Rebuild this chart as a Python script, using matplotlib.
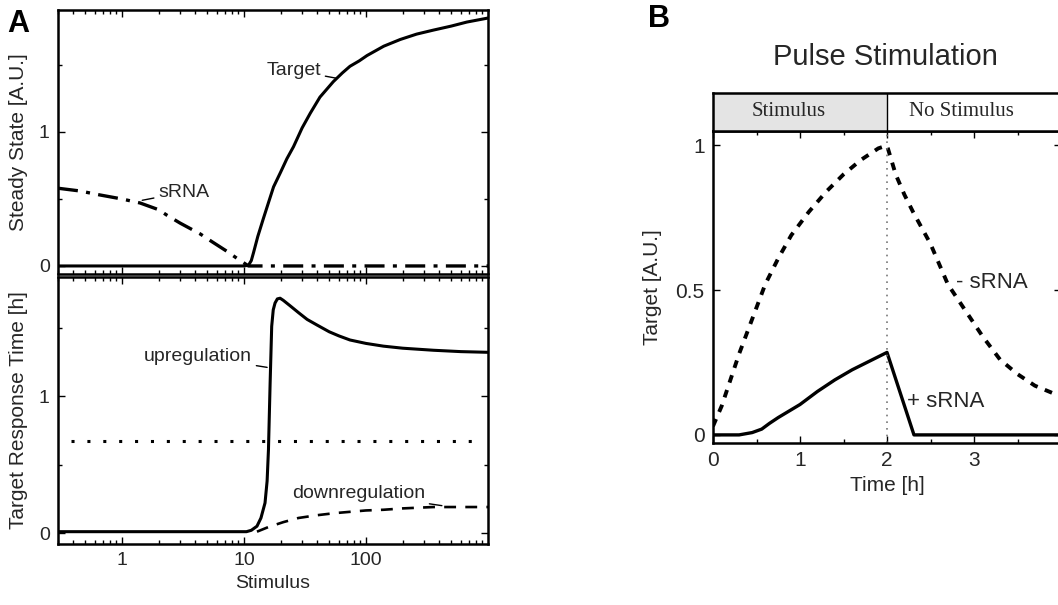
import numpy as np
import matplotlib
matplotlib.use("Agg")
import matplotlib.pyplot as plt
from matplotlib.ticker import FixedLocator, NullFormatter

plt.rcParams["font.family"] = ["Liberation Sans", "DejaVu Sans"]

# --- panel A, steady state vs stimulus (log x) ---
ss_target_x = [0.3, 1, 5, 10, 10.9, 11.5, 12, 13, 14.4, 16, 17.5, 20, 22.5, 25.5, 30, 35, 42,
               54, 64, 74, 88, 102, 140, 191, 260, 357, 500, 671, 1000]
ss_target_y = [0, 0, 0, 0, 0.005, 0.04, 0.1, 0.22, 0.35, 0.48, 0.59, 0.70, 0.80, 0.89, 1.03, 1.14, 1.26,
               1.375, 1.44, 1.49, 1.53, 1.57, 1.64, 1.69, 1.73, 1.76, 1.79, 1.82, 1.85]

ss_srna_x = [0.3, 0.45, 0.66, 1, 1.41, 2, 2.33, 3, 4.37, 5.5, 7.24, 9, 10.9, 100, 1000]
ss_srna_y = [0.58, 0.56, 0.53, 0.50, 0.47, 0.42, 0.38, 0.32, 0.24, 0.18, 0.11, 0.05, 0.0, 0.0, 0.0]

# --- panel A, response time ---
up_x = [0.3, 1, 10.5, 11.5, 12.8, 13.8, 14.9, 15.5, 15.9, 16.4, 16.9, 17.4, 18.0, 18.8, 19.8,
        21, 23.9, 28, 33, 39.6, 50, 60, 74, 100, 139, 200, 357, 600, 1000]
up_y = [0.01, 0.01, 0.01, 0.02, 0.05, 0.11, 0.22, 0.38, 0.61, 1.09, 1.51, 1.63, 1.68, 1.71, 1.715,
        1.70, 1.66, 1.61, 1.56, 1.52, 1.47, 1.44, 1.41, 1.385, 1.365, 1.35, 1.335, 1.325, 1.32]

down_x = [12.8, 16, 21.1, 28, 39.6, 55, 74, 100, 139, 200, 357, 1000]
down_y = [0.01, 0.045, 0.08, 0.11, 0.13, 0.145, 0.155, 0.165, 0.17, 0.18, 0.19, 0.19]

ref_time = 0.674

# --- panel B, pulse stimulation ---
no_srna_t = [0, 0.1, 0.2, 0.3, 0.4, 0.5, 0.6, 0.75, 0.9, 1.1, 1.3, 1.5, 1.7, 1.9, 2.0,
             2.1, 2.2, 2.3, 2.5, 2.7, 2.9, 3.1, 3.3, 3.5, 3.7, 3.9, 4.0]
no_srna_y = [0.03, 0.10, 0.19, 0.28, 0.36, 0.44, 0.52, 0.61, 0.69, 0.77, 0.84, 0.90, 0.95, 0.99, 1.0,
             0.90, 0.83, 0.77, 0.66, 0.52, 0.43, 0.34, 0.26, 0.21, 0.17, 0.145, 0.13]

with_srna_t = [0, 0.3, 0.45, 0.56, 0.65, 0.75, 0.85, 1.0, 1.2, 1.4, 1.6, 1.8, 2.0, 2.31, 4.0]
with_srna_y = [0.0, 0.0, 0.008, 0.02, 0.04, 0.06, 0.078, 0.105, 0.15, 0.19, 0.225, 0.255, 0.285, 0.0, 0.0]

W, H = 1058, 605
TXT = "#262626"
fig = plt.figure(figsize=(W / 100, H / 100), dpi=100)


def px_axes(x0, y0, x1, y1):
    return fig.add_axes([x0 / W, 1 - y1 / H, (x1 - x0) / W, (y1 - y0) / H])


def style(ax, lw=1.8):
    for s in ax.spines.values():
        s.set_linewidth(lw)
    ax.tick_params(which="both", direction="in", top=True, right=True,
                   labelsize=14, width=1.0, pad=6, labelcolor=TXT)
    ax.tick_params(which="major", length=5)
    ax.tick_params(which="minor", length=3)


def leader(ax, label, xy, xytext, ha):
    ax.annotate(label, xy=xy, xytext=xytext, fontsize=14, ha=ha, va="center", color=TXT,
                arrowprops=dict(arrowstyle="-", lw=1.0, color="black", shrinkA=1, shrinkB=0))


ax1 = px_axes(58, 10, 488, 274)
ax2 = px_axes(58, 277, 488, 544)

for ax in (ax1, ax2):
    ax.set_xscale("log")
    ax.set_xlim(0.3, 1000)
    style(ax)

ax1.plot(ss_target_x, ss_target_y, color="black", lw=2.2)
ax1.plot(ss_srna_x, ss_srna_y, color="black", lw=2.4, dashes=[6, 2.5, 1.2, 2.5])
ax1.set_ylim(-0.06, 1.91)
ax1.yaxis.set_major_locator(FixedLocator([0, 1]))
ax1.yaxis.set_minor_locator(FixedLocator([0.5, 1.5]))
ax1.xaxis.set_major_formatter(NullFormatter())
ax1.xaxis.set_minor_formatter(NullFormatter())
ax1.set_ylabel("Steady State [A.U.]", fontsize=15, color=TXT, labelpad=8)
leader(ax1, "Target", (58, 1.40), (43, 1.46), "right")
leader(ax1, "sRNA", (1.47, 0.49), (1.98, 0.55), "left")

ax2.plot(up_x, up_y, color="black", lw=2.2)
ax2.plot(down_x, down_y, color="black", lw=1.9, dashes=[4.5, 3.5])
ax2.axhline(ref_time, xmin=0.03, xmax=0.985, color="black", lw=2.2, ls=(0, (1, 4.2)))
ax2.set_ylim(-0.08, 1.87)
ax2.yaxis.set_major_locator(FixedLocator([0, 1]))
ax2.yaxis.set_minor_locator(FixedLocator([0.5, 1.5]))
ax2.set_xticks([1, 10, 100])
ax2.set_xticklabels(["1", "10", "100"])
ax2.xaxis.set_minor_formatter(NullFormatter())
ax2.set_ylabel("Target Response Time [h]", fontsize=15, color=TXT, labelpad=8)
ax2.set_xlabel("Stimulus", fontsize=14, color=TXT, labelpad=4)
leader(ax2, "upregulation", (15.5, 1.21), (11.7, 1.29), "right")
leader(ax2, "downregulation", (419, 0.20), (306, 0.29), "right")

# --- panel B ---
axb = px_axes(713, 131, 1061, 443)
style(axb)
axb.set_xlim(0, 4)
axb.set_ylim(-0.028, 1.05)
axb.plot(no_srna_t, no_srna_y, color="black", lw=2.8, dashes=[2.0, 2.0])
axb.plot(with_srna_t, with_srna_y, color="black", lw=2.4)
axb.axvline(2, color="#777777", lw=1.2, ls=(0, (1, 3)))
axb.set_xticks([0, 1, 2, 3])
axb.xaxis.set_minor_locator(FixedLocator([0.5, 1.5, 2.5, 3.5]))
axb.set_yticks([0, 0.5, 1])
axb.set_yticklabels(["0", "0.5", "1"])
axb.tick_params(labelsize=15)
axb.set_xlabel("Time [h]", fontsize=15, color=TXT, labelpad=4)
axb.set_ylabel("Target [A.U.]", fontsize=15, color=TXT, labelpad=10)
axb.text(2.79, 0.525, "- sRNA", fontsize=16, ha="left", va="center", color=TXT)
axb.text(2.23, 0.115, "+ sRNA", fontsize=16, ha="left", va="center", color=TXT)

box = px_axes(713, 93, 1061, 131)
box.set_xlim(0, 4)
box.set_ylim(0, 1)
box.axvspan(0, 2, color="#e4e4e4", lw=0)
box.axvline(2, color="black", lw=1.0)
for s in box.spines.values():
    s.set_linewidth(1.8)
box.set_xticks([])
box.set_yticks([])
box.text(0.87, 0.5, "Stimulus", fontsize=15, family="Liberation Serif",
         ha="center", va="center", color=TXT)
box.text(2.85, 0.5, "No Stimulus", fontsize=15, family="Liberation Serif",
         ha="center", va="center", color=TXT)

fig.text(885 / W, 1 - 57 / H, "Pulse Stimulation", fontsize=21, ha="center",
         va="center", color=TXT)
fig.text(7 / W, 1 - 24 / H, "A", fontsize=22, fontweight="bold", ha="left", va="center")
fig.text(648 / W, 1 - 19 / H, "B", fontsize=22, fontweight="bold", ha="left", va="center")

fig.savefig("out.png", dpi=100)
